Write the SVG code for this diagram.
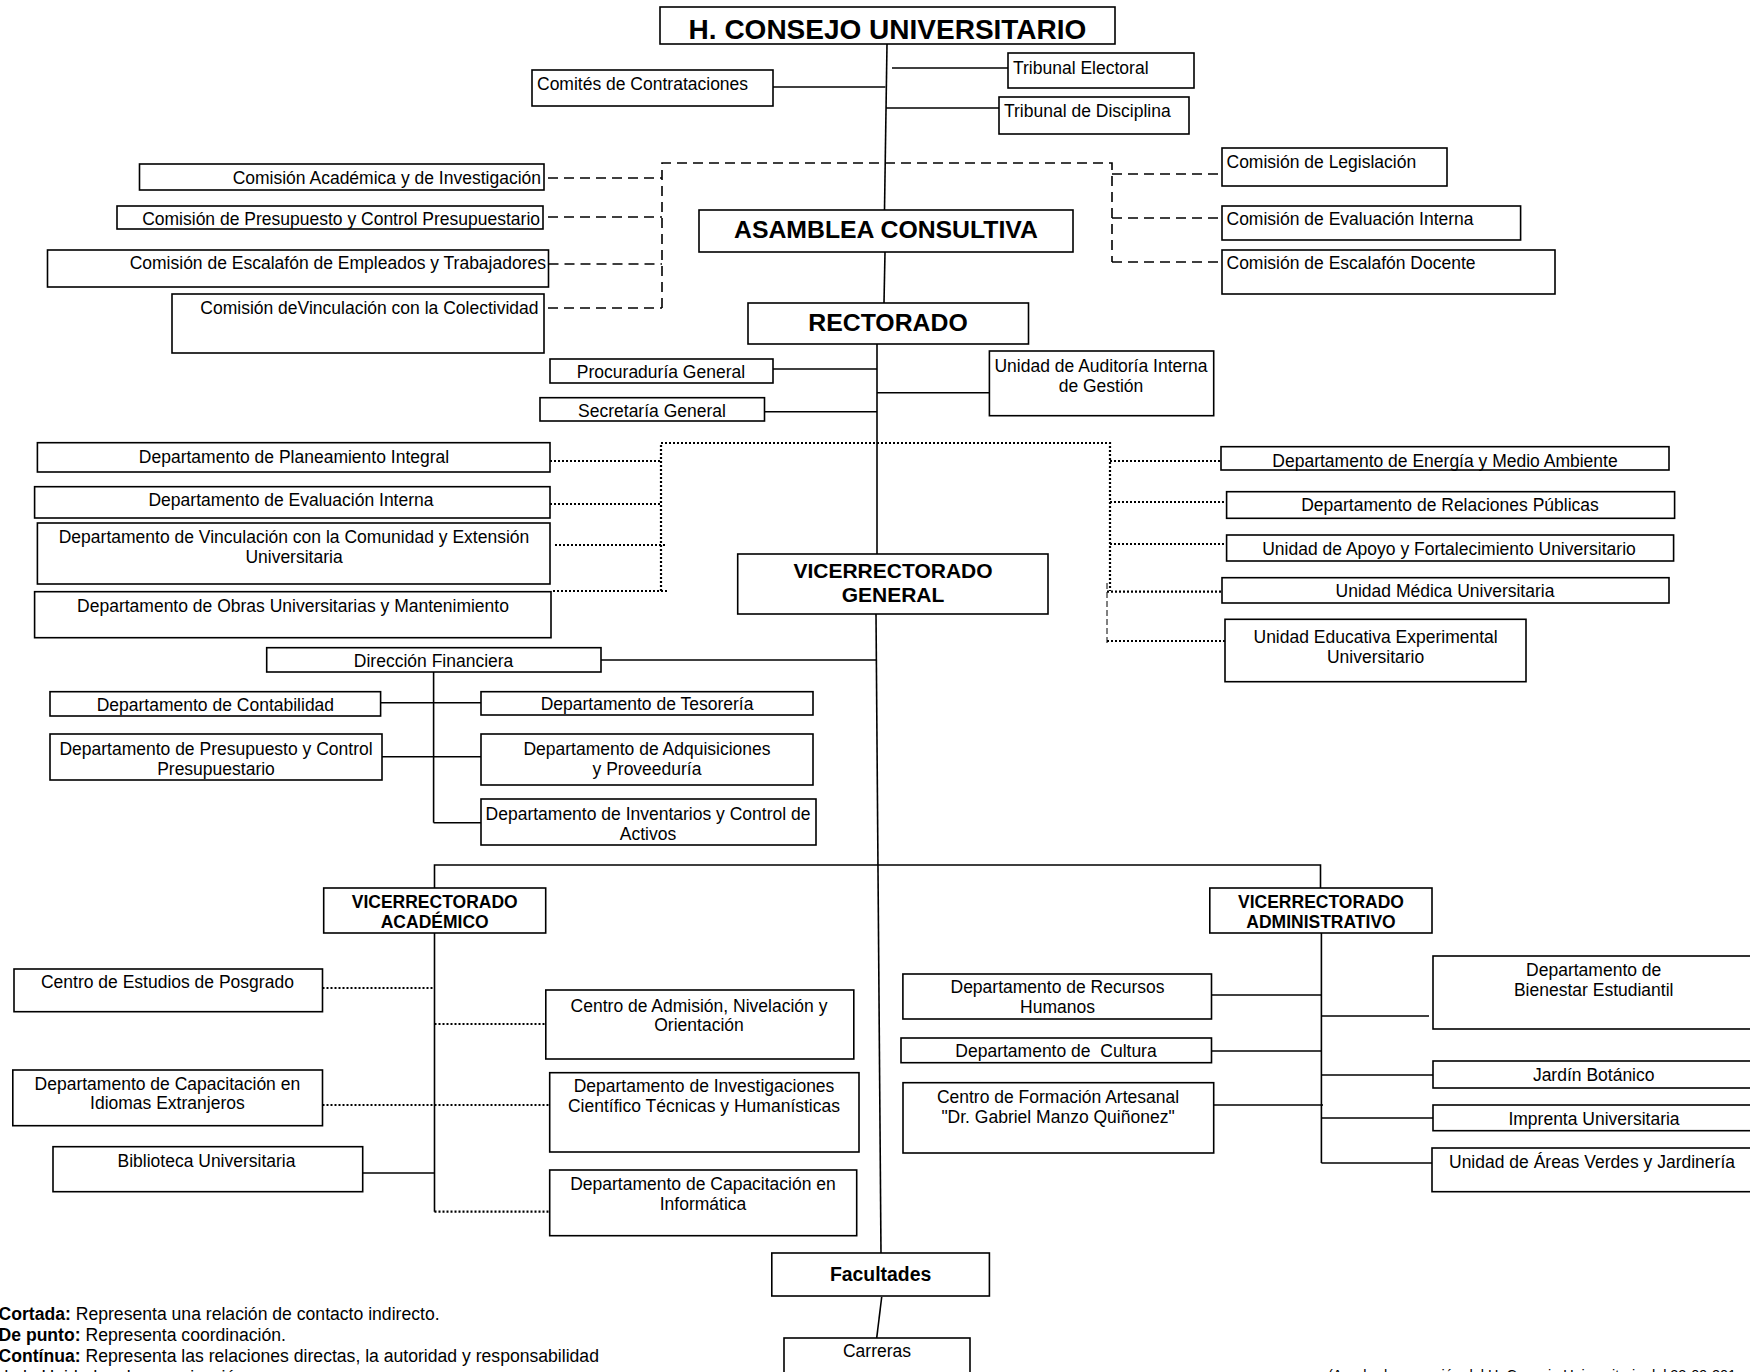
<svg xmlns="http://www.w3.org/2000/svg" width="1750" height="1372" viewBox="0 0 1750 1372">
<style>
  .bx{fill:#fff;stroke:#000;stroke-width:1.6}
  text{font-family:"Liberation Sans",Arial,sans-serif;font-size:17.5px;fill:#000}
  .c{text-anchor:middle}
  .e{text-anchor:end}
  .b{font-weight:bold}
  .ln{stroke:#000;stroke-width:1.6;fill:none}
  .da{stroke:#000;stroke-width:1.6;fill:none;stroke-dasharray:10 6}
  .do{stroke:#000;stroke-width:2.2;fill:none;stroke-dasharray:2 2}
  .dt{stroke:#000;stroke-width:1;fill:none;stroke-dasharray:6 3}
  .lg{font-size:17.6px}
  .t1{font-size:28px}
  .t2{font-size:24.8px}
</style>
<rect width="1750" height="1372" fill="#fff"/>

<g id="connectors">
  <path class="ln" d="M887,44 L884.5,210"/>
  <path class="ln" d="M773,87 H885.5"/>
  <path class="ln" d="M892,68 H1008"/>
  <path class="ln" d="M886,108 H999"/>
  <path class="ln" d="M885,252 L884,303"/>
  <path class="ln" d="M877,344 V554"/>
  <path class="ln" d="M773,369 H877"/>
  <path class="ln" d="M764.5,411.7 H877"/>
  <path class="ln" d="M877,392.7 H989.4"/>
  <path class="ln" d="M876,614 L881,1253"/>
  <path class="ln" d="M601,660 H876.5"/>
  <path class="ln" d="M433.6,672 V822.7"/>
  <path class="ln" d="M380.6,702.7 H481"/>
  <path class="ln" d="M382,756.7 H481"/>
  <path class="ln" d="M433.6,822.7 H481"/>
  <path class="ln" d="M434.5,888 V865 H1320.5 V888"/>
  <path class="ln" d="M434.5,933 V1211.7"/>
  <path class="ln" d="M362.7,1173 H434.5"/>
  <path class="ln" d="M1321.4,933 V1163"/>
  <path class="ln" d="M1211.5,995 H1321.4"/>
  <path class="ln" d="M1211.5,1051 H1321.4"/>
  <path class="ln" d="M1213.7,1105 H1323"/>
  <path class="ln" d="M1321.4,1016 H1429"/>
  <path class="ln" d="M1321.4,1075 H1433"/>
  <path class="ln" d="M1321.4,1118 H1433"/>
  <path class="ln" d="M1321.4,1163 H1432"/>
  <path class="ln" d="M881.7,1297 L876.7,1338"/>
  <path class="da" d="M662,308 V163 H1112 V262"/>
  <path class="da" d="M548,178 H662"/>
  <path class="da" d="M548,217 H662"/>
  <path class="da" d="M548.5,264 H662"/>
  <path class="da" d="M548,308 H662"/>
  <path class="da" d="M1112,174 H1222"/>
  <path class="da" d="M1112,218 H1222"/>
  <path class="da" d="M1112,262 H1222"/>
  <path class="do" d="M661,591 V443 H1110 V591"/>
  <path class="dt" d="M1107,583 V645"/>
  <path class="do" d="M550,461 H661"/>
  <path class="do" d="M550,504 H661"/>
  <path class="do" d="M555,545 H667"/>
  <path class="do" d="M553,591 H667"/>
  <path class="do" d="M1110,461 H1221"/>
  <path class="do" d="M1110,502 H1226.6"/>
  <path class="do" d="M1110,544 H1226.6"/>
  <path class="do" d="M1107,591.7 H1222"/>
  <path class="do" d="M1107,641 H1225"/>
  <path class="do" d="M322.5,988 H434.5"/>
  <path class="do" d="M434.5,1024 H545.8"/>
  <path class="do" d="M322.5,1105 H549.7"/>
  <path class="do" d="M434.5,1211.7 H549.7"/>
</g>

<g id="consejo"><rect class="bx" x="660" y="7" width="455" height="37"/><text class="c b t1" x="887.5" y="39">H. CONSEJO UNIVERSITARIO</text></g>
<g id="comites"><rect class="bx" x="532" y="70" width="241" height="36"/><text x="537" y="90">Comités de Contrataciones</text></g>
<g id="tribunal-electoral"><rect class="bx" x="1008" y="53" width="186" height="35"/><text x="1013" y="74">Tribunal Electoral</text></g>
<g id="tribunal-disciplina"><rect class="bx" x="999" y="97" width="190" height="37"/><text x="1004" y="117">Tribunal de Disciplina</text></g>

<g id="com-academica"><rect class="bx" x="139.5" y="164" width="404.5" height="26"/><text class="e" x="541" y="184">Comisión Académica y de Investigación</text></g>
<g id="com-presupuesto"><rect class="bx" x="117" y="206" width="426" height="23"/><text class="e" x="540" y="225">Comisión de Presupuesto y Control Presupuestario</text></g>
<g id="com-escalafon-emp"><rect class="bx" x="47.5" y="250" width="501" height="37"/><text class="e" x="546" y="269">Comisión de Escalafón de Empleados y Trabajadores</text></g>
<g id="com-vinculacion"><rect class="bx" x="172" y="294" width="372" height="59"/><text class="e" x="538.5" y="314">Comisión deVinculación con la Colectividad</text></g>
<g id="com-legislacion"><rect class="bx" x="1222" y="148" width="225" height="38"/><text x="1226.5" y="168">Comisión de Legislación</text></g>
<g id="com-eval"><rect class="bx" x="1222" y="206" width="298.6" height="34"/><text x="1226.5" y="225">Comisión de Evaluación Interna</text></g>
<g id="com-escalafon-doc"><rect class="bx" x="1222" y="250" width="333" height="44"/><text x="1226.5" y="269">Comisión de Escalafón Docente</text></g>

<g id="asamblea"><rect class="bx" x="699" y="210" width="374" height="42"/><text class="c b t2" x="886" y="238">ASAMBLEA CONSULTIVA</text></g>
<g id="rectorado"><rect class="bx" x="748" y="303" width="280.5" height="41"/><text class="c b t2" x="888" y="331">RECTORADO</text></g>
<g id="procuraduria"><rect class="bx" x="550" y="359" width="223" height="24"/><text class="c" x="661" y="378">Procuraduría General</text></g>
<g id="secretaria"><rect class="bx" x="540" y="397.7" width="224.5" height="23.3"/><text class="c" x="652" y="417">Secretaría General</text></g>
<g id="auditoria"><rect class="bx" x="989.4" y="351" width="224.3" height="64.7"/><text class="c" x="1101" y="372">Unidad de Auditoría Interna</text><text class="c" x="1101" y="391.7">de Gestión</text></g>

<g id="planeamiento"><rect class="bx" x="37.4" y="442.7" width="512.6" height="29.3"/><text class="c" x="294" y="463">Departamento de Planeamiento Integral</text></g>
<g id="evaluacion-dep"><rect class="bx" x="34.6" y="486.7" width="515.4" height="31.3"/><text class="c" x="291" y="506">Departamento de Evaluación Interna</text></g>
<g id="vinculacion-dep"><rect class="bx" x="37.4" y="523" width="512.6" height="61"/><text class="c" x="294" y="543">Departamento de Vinculación con la Comunidad y Extensión</text><text class="c" x="294" y="563">Universitaria</text></g>
<g id="obras"><rect class="bx" x="34.6" y="591.7" width="516.4" height="46"/><text class="c" x="293" y="611.7">Departamento de Obras Universitarias y Mantenimiento</text></g>

<g id="energia"><rect class="bx" x="1221" y="446.7" width="448" height="23.3"/><text class="c" x="1445" y="467">Departamento de Energía y Medio Ambiente</text></g>
<g id="relaciones"><rect class="bx" x="1226.6" y="491.7" width="448" height="26.6"/><text class="c" x="1450" y="510.7">Departamento de Relaciones Públicas</text></g>
<g id="apoyo"><rect class="bx" x="1226.6" y="535" width="447" height="26"/><text class="c" x="1449" y="555">Unidad de Apoyo y Fortalecimiento Universitario</text></g>
<g id="medica"><rect class="bx" x="1222" y="577.7" width="447" height="25.3"/><text class="c" x="1445" y="597">Unidad Médica Universitaria</text></g>
<g id="educativa"><rect class="bx" x="1225" y="619.3" width="301" height="62.4"/><text class="c" x="1375.6" y="643">Unidad Educativa Experimental</text><text class="c" x="1375.6" y="663">Universitario</text></g>

<g id="vicerrectorado-general"><rect class="bx" x="737.7" y="554" width="310.3" height="60"/><text class="c b" x="893" y="578" style="font-size:21px">VICERRECTORADO</text><text class="c b" x="893" y="602" style="font-size:21px">GENERAL</text></g>

<g id="direccion-financiera"><rect class="bx" x="266.7" y="647.7" width="334.3" height="24.3"/><text class="c" x="433.6" y="667">Dirección Financiera</text></g>
<g id="contabilidad"><rect class="bx" x="50" y="691.7" width="330.6" height="24.3"/><text class="c" x="215.4" y="710.7">Departamento de Contabilidad</text></g>
<g id="tesoreria"><rect class="bx" x="481" y="691.7" width="332" height="23.3"/><text class="c" x="647" y="710">Departamento de Tesorería</text></g>
<g id="presupuesto-dep"><rect class="bx" x="50" y="734" width="332" height="46"/><text class="c" x="216" y="755">Departamento de Presupuesto y Control</text><text class="c" x="216" y="775">Presupuestario</text></g>
<g id="adquisiciones"><rect class="bx" x="481" y="734" width="332" height="51"/><text class="c" x="647" y="755">Departamento de Adquisiciones</text><text class="c" x="647" y="775">y Proveeduría</text></g>
<g id="inventarios"><rect class="bx" x="481" y="799" width="335" height="46"/><text class="c" x="648" y="820">Departamento de Inventarios y Control de</text><text class="c" x="648" y="840">Activos</text></g>

<g id="vicerrectorado-academico"><rect class="bx" x="323.7" y="888" width="222" height="45"/><text class="c b" x="434.7" y="908">VICERRECTORADO</text><text class="c b" x="434.7" y="928">ACADÉMICO</text></g>
<g id="vicerrectorado-administrativo"><rect class="bx" x="1209.8" y="888" width="222.2" height="45"/><text class="c b" x="1321" y="908">VICERRECTORADO</text><text class="c b" x="1321" y="928">ADMINISTRATIVO</text></g>

<g id="posgrado"><rect class="bx" x="14" y="969" width="308.5" height="42.7"/><text class="c" x="167.4" y="988">Centro de Estudios de Posgrado</text></g>
<g id="admision"><rect class="bx" x="545.8" y="990" width="308" height="69"/><text class="c" x="699" y="1011.7">Centro de Admisión, Nivelación y</text><text class="c" x="699" y="1031">Orientación</text></g>
<g id="idiomas"><rect class="bx" x="12.8" y="1070" width="309.7" height="55.7"/><text class="c" x="167.4" y="1090">Departamento de Capacitación en</text><text class="c" x="167.4" y="1109">Idiomas Extranjeros</text></g>
<g id="investigaciones"><rect class="bx" x="549.7" y="1072.7" width="309.3" height="79.3"/><text class="c" x="704" y="1092">Departamento de Investigaciones</text><text class="c" x="704" y="1112">Científico Técnicas y Humanísticas</text></g>
<g id="biblioteca"><rect class="bx" x="53" y="1146.7" width="309.7" height="45"/><text class="c" x="206.5" y="1166.7">Biblioteca Universitaria</text></g>
<g id="informatica"><rect class="bx" x="549.7" y="1170" width="307" height="65.7"/><text class="c" x="703" y="1190">Departamento de Capacitación en</text><text class="c" x="703" y="1210">Informática</text></g>

<g id="facultades"><rect class="bx" x="771.8" y="1253" width="217.6" height="43"/><text class="c b" x="880.6" y="1281" style="font-size:19.4px">Facultades</text></g>
<g id="carreras"><rect class="bx" x="784" y="1338" width="186" height="50"/><text class="c" x="877" y="1357">Carreras</text></g>

<g id="recursos-humanos"><rect class="bx" x="902.9" y="974" width="308.6" height="45"/><text class="c" x="1057.5" y="993">Departamento de Recursos</text><text class="c" x="1057.5" y="1013">Humanos</text></g>
<g id="cultura"><rect class="bx" x="901" y="1038" width="310.5" height="24.7"/><text class="c" x="1056" y="1057" xml:space="preserve" style="white-space:pre">Departamento de  Cultura</text></g>
<g id="artesanal"><rect class="bx" x="903" y="1082.7" width="310.7" height="70.3"/><text class="c" x="1058" y="1103">Centro de Formación Artesanal</text><text class="c" x="1058" y="1123">"Dr. Gabriel Manzo Quiñonez"</text></g>
<g id="bienestar"><rect class="bx" x="1433" y="956" width="330" height="73"/><text class="c" x="1593.7" y="976">Departamento de</text><text class="c" x="1593.7" y="996">Bienestar Estudiantil</text></g>
<g id="jardin"><rect class="bx" x="1433" y="1061" width="330" height="27"/><text class="c" x="1593.7" y="1081">Jardín Botánico</text></g>
<g id="imprenta"><rect class="bx" x="1433" y="1105" width="330" height="25.7"/><text class="c" x="1594" y="1125">Imprenta Universitaria</text></g>
<g id="areas-verdes"><rect class="bx" x="1432" y="1148" width="331" height="43.7"/><text class="c" x="1592" y="1168">Unidad de Áreas Verdes y Jardinería</text></g>

<g id="legend">
  <text class="lg" x="-1.5" y="1320"><tspan class="b">Cortada:</tspan> Representa una relación de contacto indirecto.</text>
  <text class="lg" x="-1.5" y="1341"><tspan class="b">De punto:</tspan> Representa coordinación.</text>
  <text class="lg" x="-1.5" y="1362"><tspan class="b">Contínua:</tspan> Representa las relaciones directas, la autoridad y responsabilidad</text>
  <text class="lg" x="-1.5" y="1383">de la Unidad en la organización.</text>
  <text x="1328" y="1380" style="font-size:14.4px">(Aprobado en sesión del H. Consejo Universitario del 22-09-201</text>
</g>
</svg>
